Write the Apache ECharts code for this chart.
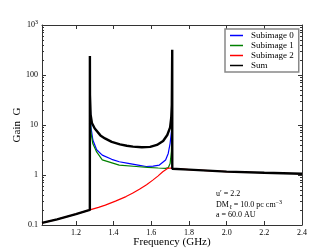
<!DOCTYPE html>
<html><head><meta charset="utf-8">
<script src="https://cdn.jsdelivr.net/npm/echarts@6/dist/echarts.min.js"></script>
<style>html,body{margin:0;padding:0;background:#fff}#c{width:336px;height:252px}</style>
</head><body><div id="c"></div>
<script>
// ---- data (frequency GHz, gain) ----
const xTicks = [1.2, 1.4, 1.6, 1.8, 2.0, 2.2, 2.4];
const yMajor = [0.1, 1, 10, 100, 1000];
const yMinor = [0.2,0.3,0.4,0.5,0.6,0.7,0.8,0.9,2,3,4,5,6,7,8,9,20,30,40,50,60,70,80,90,200,300,400,500,600,700,800,900];

const sub0Freq = [1.2745, 1.28, 1.29, 1.31, 1.34, 1.39, 1.43, 1.478, 1.53, 1.573, 1.61, 1.643, 1.676, 1.69, 1.70, 1.708, 1.7105];
const sub0Gain = [40, 9, 5, 3.2, 2.5, 2.06, 1.84, 1.71, 1.58, 1.48, 1.5, 1.58, 2.0, 2.7, 4.3, 8, 40];

const sub1Freq = [1.2745, 1.28, 1.29, 1.31, 1.34, 1.43, 1.52, 1.58, 1.637, 1.676, 1.69, 1.70, 1.707, 1.7105];
const sub1Gain = [30, 7, 4.2, 2.9, 2.0, 1.58, 1.48, 1.42, 1.38, 1.36, 1.4, 1.7, 3, 30];

const sub2Freq = [1.02, 1.1, 1.2, 1.274, 1.32, 1.356, 1.41, 1.466, 1.5, 1.537, 1.575, 1.608, 1.635, 1.661, 1.688, 1.70, 1.711, 1.72, 1.8, 2.0, 2.2, 2.4];
const sub2Gain = [0.11, 0.13, 0.165, 0.2, 0.225, 0.25, 0.3, 0.37, 0.43, 0.52, 0.64, 0.79, 0.95, 1.16, 1.36, 1.38, 1.36, 1.33, 1.28, 1.17, 1.11, 1.06];

const sumFreq = [1.02, 1.1, 1.2, 1.274, 1.2742, 1.2746, 1.278, 1.285, 1.30, 1.33, 1.354, 1.39, 1.434, 1.47, 1.503, 1.55, 1.594, 1.63, 1.663, 1.685, 1.70, 1.706, 1.709, 1.7112, 1.7115, 1.72, 1.8, 2.0, 2.2, 2.4];
const sumGain = [0.11, 0.13, 0.165, 0.2, 240, 40, 16, 11, 8.5, 6.2, 5.4, 4.6, 4.1, 3.85, 3.7, 3.6, 3.65, 4.0, 4.8, 6.3, 9, 14, 25, 320, 1.33, 1.33, 1.28, 1.17, 1.11, 1.06];

const names = ['Subimage 0', 'Subimage 1', 'Subimage 2', 'Sum'];
const colors = ['#0000ff', '#008000', '#ff0000', '#000000'];

const pair = (xs, ys) => xs.map((x, i) => [x, ys[i]]);
const FONT = 'Liberation Serif';
const axisCol = '#333';

const chart = echarts.init(document.getElementById('c'), null, {renderer: 'canvas'});

function yLabel(v) {
  const e = Math.round(Math.log10(v));
  if (e === 3) return '10{sup|3}';
  if (e === -1) return '0.1';
  return String(Math.pow(10, e));
}

const baseX = {
  type: 'value', min: 1.02, max: 2.4,
  axisLine: {show: true, onZero: false, lineStyle: {color: axisCol, width: 1}},
  splitLine: {show: false}
};
const baseY = {
  type: 'log', logBase: 10, min: 0.1, max: 1000,
  axisLine: {show: true, lineStyle: {color: axisCol, width: 1}},
  splitLine: {show: false}
};

const option = {
  animation: false,
  backgroundColor: '#fff',
  grid: {left: 42, right: 34, top: 25, bottom: 27, containLabel: false, outerBoundsMode: 'none'},
  xAxis: [
    Object.assign({}, baseX, {
      position: 'bottom',
      axisTick: {inside: true, length: 4, customValues: xTicks, lineStyle: {color: axisCol}},
      axisLabel: {customValues: xTicks, formatter: v => v.toFixed(1), margin: 4, fontSize: 8, fontFamily: FONT, color: '#000'},
      name: 'Frequency (GHz)', nameLocation: 'middle', nameGap: 12, nameMoveOverlap: false,
      nameTextStyle: {fontSize: 11, fontFamily: FONT, color: '#000'}
    }),
    Object.assign({}, baseX, {
      position: 'top',
      axisTick: {inside: true, length: 4, customValues: xTicks, lineStyle: {color: axisCol}},
      axisLabel: {show: false}
    })
  ],
  yAxis: [
    Object.assign({}, baseY, {
      position: 'left',
      axisTick: {inside: true, length: 4, customValues: yMajor, lineStyle: {color: axisCol}},
      axisLabel: {customValues: yMajor, formatter: yLabel, margin: 4, fontSize: 8, fontFamily: FONT, color: '#000',
        rich: {sup: {fontSize: 6, fontFamily: FONT, verticalAlign: 'top', padding: [0, 0, 5, 0]}}},
      name: 'Gain  G', nameLocation: 'middle', nameGap: 19, nameMoveOverlap: false,
      nameTextStyle: {fontSize: 11, fontFamily: FONT, color: '#000'}
    }),
    Object.assign({}, baseY, {
      position: 'left',
      axisLine: {show: false},
      axisTick: {inside: true, length: 2, customValues: yMinor, lineStyle: {color: axisCol}},
      axisLabel: {show: false}
    }),
    Object.assign({}, baseY, {
      position: 'right',
      axisTick: {inside: true, length: 4, customValues: yMajor, lineStyle: {color: axisCol}},
      axisLabel: {show: false}
    }),
    Object.assign({}, baseY, {
      position: 'right',
      axisLine: {show: false},
      axisTick: {inside: true, length: 2, customValues: yMinor, lineStyle: {color: axisCol}},
      axisLabel: {show: false}
    })
  ],
  legend: {
    orient: 'vertical', left: 225, top: 29,
    itemWidth: 13, itemHeight: 8, itemGap: 1,
    padding: [2, 5, 2, 5],
    borderColor: '#888', borderWidth: 1.5,
    backgroundColor: '#fff',
    textStyle: {fontSize: 9, fontFamily: FONT, color: '#000', padding: [0, 0, 0, 3]}
  },
  series: [
    {name: names[0], data: pair(sub0Freq, sub0Gain), lw: 1.2},
    {name: names[1], data: pair(sub1Freq, sub1Gain), lw: 1.2},
    {name: names[2], data: pair(sub2Freq, sub2Gain), lw: 1.2},
    {name: names[3], data: pair(sumFreq, sumGain), lw: 2.4}
  ].map((s, i) => ({
    type: 'line', name: s.name, data: s.data, xAxisIndex: 0, yAxisIndex: 0,
    symbol: 'none', showSymbol: false, smooth: false, z: 2 + i,
    color: colors[i],
    itemStyle: {color: colors[i]},
    lineStyle: {color: colors[i], width: s.lw, join: 'bevel'}
  })),
  graphic: [
    {type: 'text', left: 216, top: 190, style: {text: 'u′ = 2.2', font: '8px "Liberation Serif"', fill: '#000'}},
    {type: 'text', left: 216, top: 199, style: {
      text: 'DM{sub|ℓ} = 10.0 pc cm{sup|−3}', font: '8px "Liberation Serif"', fill: '#000',
      rich: {sub: {fontSize: 6, fontFamily: FONT, lineHeight: 10, padding: [5, 0, 0, 0]},
             sup: {fontSize: 6, fontFamily: FONT, lineHeight: 10, padding: [0, 0, 4, 0]}}}},
    {type: 'text', left: 216, top: 211, style: {text: 'a = 60.0 AU', font: '8px "Liberation Serif"', fill: '#000'}}
  ]
};
option.legend.data = names.map((n, i) => ({name: n, icon: 'path://M0,0 L13,0 L13,1.5 L0,1.5 Z', itemStyle: {color: colors[i]}}));
chart.setOption(option);
</script></body></html>
